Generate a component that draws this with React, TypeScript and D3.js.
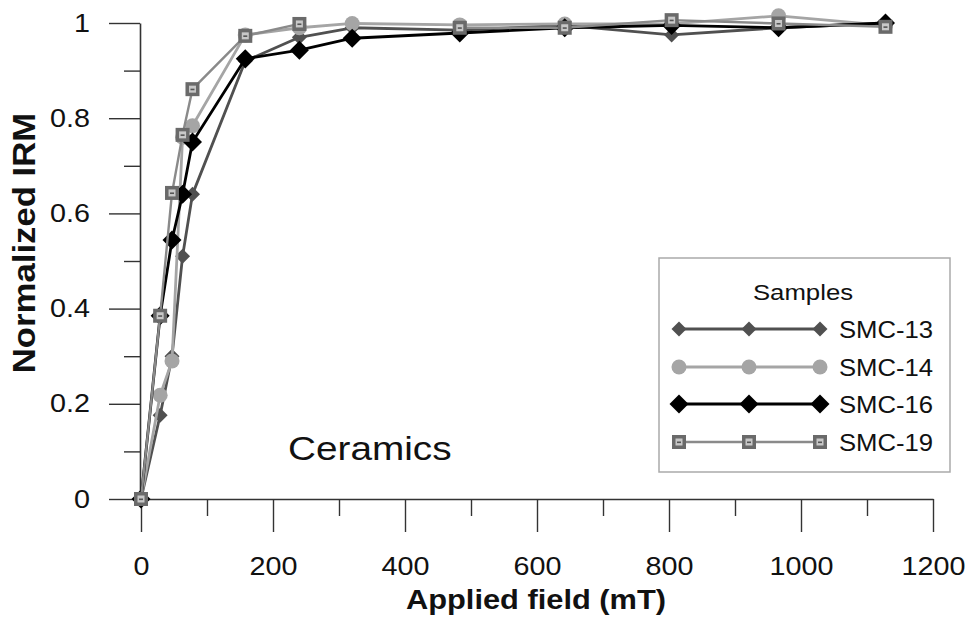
import React, { useEffect, useRef } from "react";
import * as d3 from "d3";

// applied field steps (mT)
const fields = [0, 29, 47, 63, 78, 158, 240, 320, 483, 642, 804, 966, 1128];

// normalized IRM for each sample (null = no point)
const smc13 = [0, 0.176, 0.3, 0.51, 0.64, 0.92, 0.97, 0.99, 0.985, 0.995, 0.975, 0.99, 1.0];
const smc14 = [0, 0.218, 0.29, 0.76, 0.784, 0.975, 0.99, 0.999, 0.996, 0.998, 0.998, 1.015, 0.995];
const smc16 = [0, 0.385, 0.544, 0.64, 0.75, 0.925, 0.943, 0.968, 0.979, 0.99, 0.995, 0.99, 1.0];
const smc19 = [0, 0.385, 0.643, 0.765, 0.861, 0.973, 0.998, null, 0.99, 0.99, 1.006, 0.999, 0.992];

const sampleNames = ["SMC-13", "SMC-14", "SMC-16", "SMC-19"];
const xTicks = [0, 200, 400, 600, 800, 1000, 1200];
const xMinorTicks = [100, 300, 500, 700, 900, 1100];
const yTicks = [0, 0.2, 0.4, 0.6, 0.8, 1];
const yMinorTicks = [0.1, 0.3, 0.5, 0.7, 0.9];

const FONT = "'Liberation Sans', Arial, sans-serif";
const W = 974;
const H = 624;

const series = [
  { name: sampleNames[0], values: smc13, color: "#505050", width: 2.8, marker: "diamond13" },
  { name: sampleNames[1], values: smc14, color: "#a5a5a5", width: 2.8, marker: "circle" },
  { name: sampleNames[2], values: smc16, color: "#000000", width: 2.8, marker: "diamond16" },
  { name: sampleNames[3], values: smc19, color: "#8a8a8a", width: 2.4, marker: "square" },
];

const x = d3.scaleLinear().domain([0, 1200]).range([141, 933]);
const y = d3.scaleLinear().domain([0, 1]).range([499, 23]);

const Marker = ({ kind, cx, cy }) => {
  if (kind === "circle") return <circle cx={cx} cy={cy} r={7.5} fill="#a5a5a5" />;
  if (kind === "diamond13") {
    const s = 7.5;
    return <path d={`M${cx},${cy - s}L${cx + s},${cy}L${cx},${cy + s}L${cx - s},${cy}Z`} fill="#505050" />;
  }
  if (kind === "diamond16") {
    const s = 9.5;
    return <path d={`M${cx},${cy - s}L${cx + s},${cy}L${cx},${cy + s}L${cx - s},${cy}Z`} fill="#000" />;
  }
  return (
    <g>
      <rect x={cx - 7} y={cy - 7} width={14} height={14} fill="#6a6a6a" />
      <rect x={cx - 3.5} y={cy - 3.5} width={7} height={7} fill="#c8c8c8" />
      <rect x={cx - 2} y={cy - 0.5} width={4} height={1.6} fill="#555" />
    </g>
  );
};

const Txt = ({ x, y, sx = 1.14, size, weight = "normal", anchor = "start", rotate = 0, children }) => (
  <text
    transform={`translate(${x},${y}) rotate(${rotate}) scale(${sx},1)`}
    fontFamily={FONT}
    fontSize={size}
    fontWeight={weight}
    textAnchor={anchor}
    fill="#111"
  >
    {children}
  </text>
);

const stretch = (sel, sx) => {
  sel.selectAll("text").each(function () {
    const t = d3.select(this);
    const tx = +(t.attr("x") || 0);
    t.attr("x", tx / sx).attr("transform", `scale(${sx},1)`);
  });
};

const App = () => {
  const xAxisRef = useRef(null);
  const xMinorRef = useRef(null);
  const yAxisRef = useRef(null);
  const yMinorRef = useRef(null);

  useEffect(() => {
    const styleAxis = (g) => {
      g.select(".domain").attr("stroke", "#333").attr("stroke-width", 1.6);
      g.selectAll(".tick line").attr("stroke", "#333").attr("stroke-width", 1.4);
      g.selectAll("text")
        .attr("font-family", FONT)
        .attr("font-size", 25)
        .attr("fill", "#111");
    };

    const xg = d3.select(xAxisRef.current);
    xg.call(d3.axisBottom(x).tickValues(xTicks).tickSize(33).tickSizeOuter(0).tickPadding(25).tickFormat(d3.format("d")));
    styleAxis(xg);
    stretch(xg, 1.15);

    const xm = d3.select(xMinorRef.current);
    xm.call(d3.axisBottom(x).tickValues(xMinorTicks).tickSize(17).tickSizeOuter(0).tickFormat(() => ""));
    styleAxis(xm);
    xm.select(".domain").remove();

    const yg = d3.select(yAxisRef.current);
    yg.call(d3.axisLeft(y).tickValues(yTicks).tickSize(31).tickSizeOuter(0).tickPadding(19).tickFormat((d) => String(d)));
    styleAxis(yg);
    stretch(yg, 1.15);

    const ym = d3.select(yMinorRef.current);
    ym.call(d3.axisLeft(y).tickValues(yMinorTicks).tickSize(16).tickSizeOuter(0).tickFormat(() => ""));
    styleAxis(ym);
    ym.select(".domain").remove();
  }, []);

  const line = d3
    .line()
    .defined((d) => d[1] != null)
    .x((d) => x(d[0]))
    .y((d) => y(d[1]));

  const legendRows = [329, 367, 404, 442];
  const legendXs = [679, 749, 820];

  return (
    <div style={{ position: "absolute", left: 0, top: 0 }}>
      <svg width={W} height={H} style={{ display: "block", background: "#fff" }}>
        <g ref={xMinorRef} transform="translate(0,499)" />
        <g ref={yMinorRef} transform="translate(140,0)" />
        <g ref={xAxisRef} transform="translate(0,499)" />
        <g ref={yAxisRef} transform="translate(140,0)" />

        {series.map((s) => {
          const pts = fields.map((f, i) => [f, s.values[i]]);
          return (
            <g key={s.name}>
              <path d={line(pts)} fill="none" stroke={s.color} strokeWidth={s.width} strokeLinejoin="round" />
              {pts
                .filter((p) => p[1] != null)
                .map((p, i) => (
                  <Marker key={i} kind={s.marker} cx={x(p[0])} cy={y(p[1])} />
                ))}
            </g>
          );
        })}

        <Txt x={288} y={460} size={34}>Ceramics</Txt>

        <rect x={659} y={258} width={291} height={214} fill="#fff" stroke="#aaa" strokeWidth={1.5} />
        <Txt x={803} y={300} size={23} anchor="middle" sx={1.12}>Samples</Txt>
        {series.map((s, i) => (
          <g key={s.name}>
            <line x1={legendXs[0]} x2={legendXs[2]} y1={legendRows[i]} y2={legendRows[i]} stroke={s.color} strokeWidth={s.width} />
            {legendXs.map((lx) => (
              <Marker key={lx} kind={s.marker} cx={lx} cy={legendRows[i]} />
            ))}
            <Txt x={839} y={legendRows[i] + 8.5} size={24} sx={1.07}>{s.name}</Txt>
          </g>
        ))}

        <Txt x={536} y={609} size={28} weight="bold" anchor="middle" sx={1.1}>Applied field (mT)</Txt>
        <Txt x={35} y={243} size={31} weight="bold" anchor="middle" rotate={-90} sx={1.12}>Normalized IRM</Txt>
      </svg>
    </div>
  );
};

export default App;
